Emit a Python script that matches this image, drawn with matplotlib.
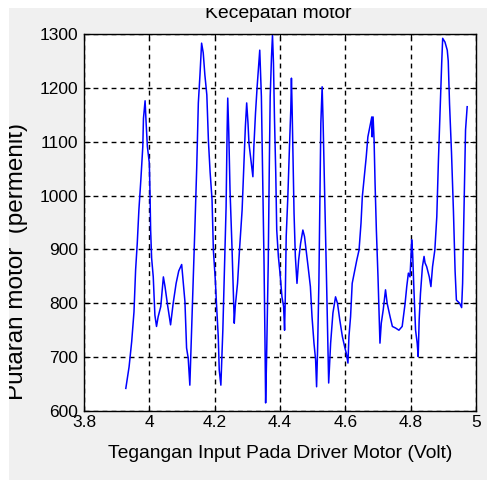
import matplotlib
matplotlib.use('Agg')
import matplotlib.pyplot as plt
import matplotlib.patches as patches

# voltage (V) and motor speed (rpm)
volt = [3.928, 3.938, 3.946, 3.953, 3.958, 3.963, 3.968, 3.974, 3.980, 3.982,
        3.987, 3.990, 3.994, 4.000, 4.002, 4.004, 4.007, 4.012, 4.017, 4.022,
        4.027, 4.035, 4.043, 4.048, 4.055, 4.065, 4.073, 4.082, 4.090, 4.099,
        4.109, 4.114, 4.119, 4.124, 4.127, 4.135, 4.140, 4.145, 4.150, 4.155,
        4.160, 4.165, 4.170, 4.176, 4.181, 4.186, 4.192, 4.196, 4.202, 4.206,
        4.211, 4.214, 4.219, 4.225, 4.230, 4.235, 4.238, 4.240, 4.243, 4.247,
        4.253, 4.257, 4.260, 4.263, 4.270, 4.276, 4.284, 4.289, 4.294, 4.298,
        4.302, 4.305, 4.312, 4.317, 4.320, 4.325, 4.330, 4.335, 4.338, 4.343,
        4.348, 4.351, 4.354, 4.356, 4.359, 4.364, 4.367, 4.370, 4.374, 4.377,
        4.380, 4.383, 4.387, 4.390, 4.395, 4.400, 4.406, 4.411, 4.414, 4.416,
        4.419, 4.424, 4.429, 4.433, 4.435, 4.437, 4.440, 4.443, 4.447, 4.452,
        4.457, 4.463, 4.470, 4.475, 4.480, 4.486, 4.493, 4.498, 4.504, 4.509,
        4.512, 4.515, 4.519, 4.522, 4.525, 4.529, 4.532, 4.537, 4.542, 4.547,
        4.549, 4.555, 4.562, 4.570, 4.576, 4.583, 4.591, 4.598, 4.603, 4.608,
        4.611, 4.616, 4.621, 4.629, 4.635, 4.642, 4.648, 4.652, 4.659, 4.664,
        4.669, 4.675, 4.681, 4.682, 4.685, 4.688, 4.691, 4.695, 4.700, 4.704,
        4.706, 4.710, 4.716, 4.723, 4.728, 4.737, 4.744, 4.754, 4.764, 4.774,
        4.783, 4.788, 4.793, 4.798, 4.801, 4.803, 4.806, 4.810, 4.815, 4.820,
        4.823, 4.826, 4.830, 4.836, 4.841, 4.844, 4.849, 4.857, 4.862, 4.867,
        4.874, 4.880, 4.885, 4.890, 4.895, 4.898, 4.905, 4.912, 4.915, 4.919,
        4.925, 4.931, 4.936, 4.940, 4.950, 4.956, 4.959, 4.962, 4.965, 4.968,
        4.973]
rpm = [642, 682, 729, 784, 862, 911, 973, 1029, 1091, 1143,
       1176, 1137, 1091, 1060, 1005, 936, 884, 849, 778, 757,
       775, 794, 849, 831, 800, 760, 800, 837, 860, 872,
       803, 717, 698, 648, 704, 847, 951, 1051, 1172, 1224,
       1283, 1265, 1224, 1187, 1100, 1044, 992, 899, 843, 794,
       738, 676, 648, 750, 862, 979, 1116, 1181, 1122, 1010,
       905, 825, 763, 794, 837, 899, 973, 1048, 1128, 1172,
       1135, 1097, 1060, 1035, 1091, 1153, 1202, 1246, 1270, 1184,
       998, 880, 732, 615, 701, 875, 1042, 1184, 1258, 1298,
       1246, 1146, 1042, 936, 887, 856, 812, 794, 750, 806,
       924, 998, 1091, 1159, 1218, 1165, 1066, 967, 887, 837,
       880, 911, 936, 924, 899, 868, 831, 775, 726, 695,
       645, 713, 837, 992, 1134, 1202, 1135, 998, 856, 713,
       652, 726, 782, 812, 800, 769, 738, 719, 707, 689,
       738, 775, 837, 862, 880, 899, 949, 998, 1042, 1072,
       1109, 1128, 1146, 1109, 1146, 1103, 1023, 936, 849, 763,
       726, 763, 788, 825, 800, 775, 757, 754, 750, 757,
       800, 831, 856, 849, 887, 918, 893, 825, 750, 726,
       701, 769, 818, 868, 887, 875, 868, 849, 831, 868,
       899, 961, 1066, 1159, 1246, 1292, 1285, 1270, 1250, 1170,
       1080, 970, 860, 806, 800, 792, 837, 936, 1029, 1122,
       1165]

x_ticks = [3.8, 4.0, 4.2, 4.4, 4.6, 4.8, 5.0]
x_labels = ['3.8', '4', '4.2', '4.4', '4.6', '4.8', '5']
y_ticks = [600, 700, 800, 900, 1000, 1100, 1200, 1300]

W, H = 487, 480
fig = plt.figure(figsize=(W / 100, H / 100), dpi=100)
fig.patch.set_facecolor('white')
plt.rcParams['font.family'] = ['Liberation Sans', 'DejaVu Sans']

# gray matlab window background
bg = patches.Rectangle((9 / W, 0), 1, 1 - 8 / H, transform=fig.transFigure,
                       facecolor='#f0f0f0', edgecolor='none', zorder=-5)
fig.patches.append(bg)

ax = fig.add_axes([84 / W, 1 - 411 / H, (476 - 84) / W, (411 - 34) / H])
ax.set_zorder(2)
ax.set_facecolor('white')
ax.plot(volt, rpm, color='#0000ff', linewidth=1.1)

ax.set_xlim(3.8, 5.0)
ax.set_ylim(600, 1300)
ax.set_xticks(x_ticks)
ax.set_xticklabels(x_labels)
ax.set_yticks(y_ticks)
ax.tick_params(direction='in', length=4, width=0.8, labelsize=12.5, pad=4,
               top=True, right=True, colors='black')
ax.tick_params(axis='x', pad=3)
ax.grid(True, color='black', linestyle=(0, (3.5, 3)), linewidth=1.0)
for s in ax.spines.values():
    s.set_color('black')
    s.set_linewidth(1.0)

fig.text(280 / W, 1 - 454 / H, 'Tegangan Input Pada Driver Motor (Volt)',
         ha='center', va='center', fontsize=13.9)
fig.text(17 / W, 1 - 262 / H, 'Putaran motor  (permenit)',
         ha='center', va='center', rotation=90, fontsize=17.5)
fig.text(278 / W, 1 - 13 / H, 'Kecepatan motor',
         ha='center', va='center', fontsize=13.9)

# white strips cropping the screenshot edges
top = patches.Rectangle((0, 1 - 8 / H), 1, 8 / H, transform=fig.transFigure,
                        facecolor='white', edgecolor='none', zorder=10)
fig.patches.append(top)
left = patches.Rectangle((0, 0), 9 / W, 1, transform=fig.transFigure,
                         facecolor='white', edgecolor='none', zorder=10)
fig.patches.append(left)

fig.savefig('out.png', dpi=100, facecolor='white')
